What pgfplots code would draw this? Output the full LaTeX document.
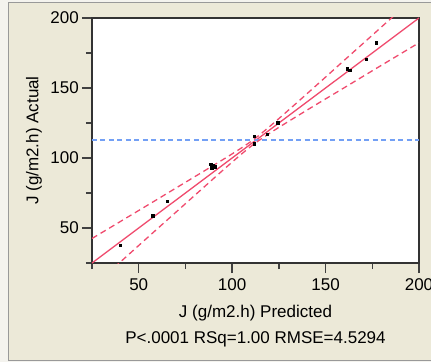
\documentclass[border=0pt]{standalone}
\usepackage{fontspec}
\setmainfont{Liberation Sans}
\usepackage{pgfplots}
\pgfplotsset{compat=1.18}
\usetikzlibrary{calc,backgrounds}
\definecolor{panel}{HTML}{ECE9D8}
\definecolor{outerbg}{HTML}{F4F3EE}
\definecolor{fitred}{RGB}{240,75,110}
\definecolor{meanblue}{RGB}{115,160,245}
\begin{document}
\begin{tikzpicture}
\begin{axis}[
  width=327pt, height=245pt, scale only axis,
  xmin=25, xmax=200, ymin=25, ymax=200,
  xtick={50,100,150,200}, ytick={50,100,150,200},
  minor xtick={25,75,125,175}, minor ytick={25,75,125,175},
  xtick pos=bottom, ytick pos=left, tick align=outside,
  major tick length=10pt, minor tick length=6pt,
  every tick/.style={black!75, line width=1.3pt},
  axis line style={black!80, line width=1.4pt},
  axis background/.style={fill=white},
  /pgf/number format/assume math mode=true,
  ticklabel style={font=\fontsize{17}{20}\selectfont},
  xticklabel style={inner sep=2pt, yshift=-3pt},
  yticklabel style={inner sep=3pt},
]
\addplot[fitred, line width=1.3pt] coordinates {(25,25) (200,200)};
\addplot[meanblue, line width=1.7pt, dash pattern=on 5pt off 3.5pt] coordinates {(25,113) (200,113)};
\addplot[fitred, line width=1.3pt, dash pattern=on 6pt off 4pt, smooth] coordinates {
 (25,42.5) (40,54.5) (55,66.5) (70,78.6) (85,90.7) (95,98.8) (105,107.2) (112,113.7)
 (120,122.4) (130,134.0) (145,151.8) (160,169.8) (175,187.7) (190,205.7) (200,217.7)};
\addplot[fitred, line width=1.3pt, dash pattern=on 6pt off 4pt, smooth] coordinates {
 (25,7.5) (40,25.5) (55,43.5) (70,61.4) (85,79.3) (95,91.2) (105,102.8) (112,110.3)
 (120,117.6) (130,126.0) (145,138.2) (160,150.2) (175,162.3) (190,174.3) (200,182.3)};
\addplot[only marks, mark=square*, mark size=1.2pt, black] coordinates {
 (40,37.6) (57.5,58.9) (65.4,69.3) (88.5,95.5) (89.1,93.1) (89.6,94.4) (90.7,93.8)
 (111.8,115.7) (111.8,110.3) (118.8,117.1) (124.4,125.3)
 (161.5,163.9) (162.9,162.6) (171.7,170.7) (177.1,182.4)};
\end{axis}
\node[rotate=90, font=\fontsize{17}{20}\selectfont] at ($(current axis.west)+(-58pt,0)$) {J (g/m2.h) Actual};
\node[font=\fontsize{17}{20}\selectfont] at ($(current axis.south)+(0,-50pt)$) {J (g/m2.h) Predicted};
\node[font=\fontsize{17}{20}\selectfont] at ($(current axis.south)+(0,-76pt)$) {P<.0001 RSq=1.00 RMSE=4.5294};
\begin{scope}[on background layer]
  \fill[outerbg] ($(current axis.south west)+(-92pt,-99pt)$) rectangle ($(current axis.north east)+(12pt,18pt)$);
  \filldraw[fill=panel, draw=black!40, line width=1pt] ($(current axis.south west)+(-83pt,-97pt)$) rectangle ($(current axis.south west)+(345pt,260pt)$);
\end{scope}
\pgfresetboundingbox
\path ($(current axis.south west)+(-92pt,-99pt)$) rectangle ($(current axis.north east)+(12pt,18pt)$);
\end{tikzpicture}
\end{document}
